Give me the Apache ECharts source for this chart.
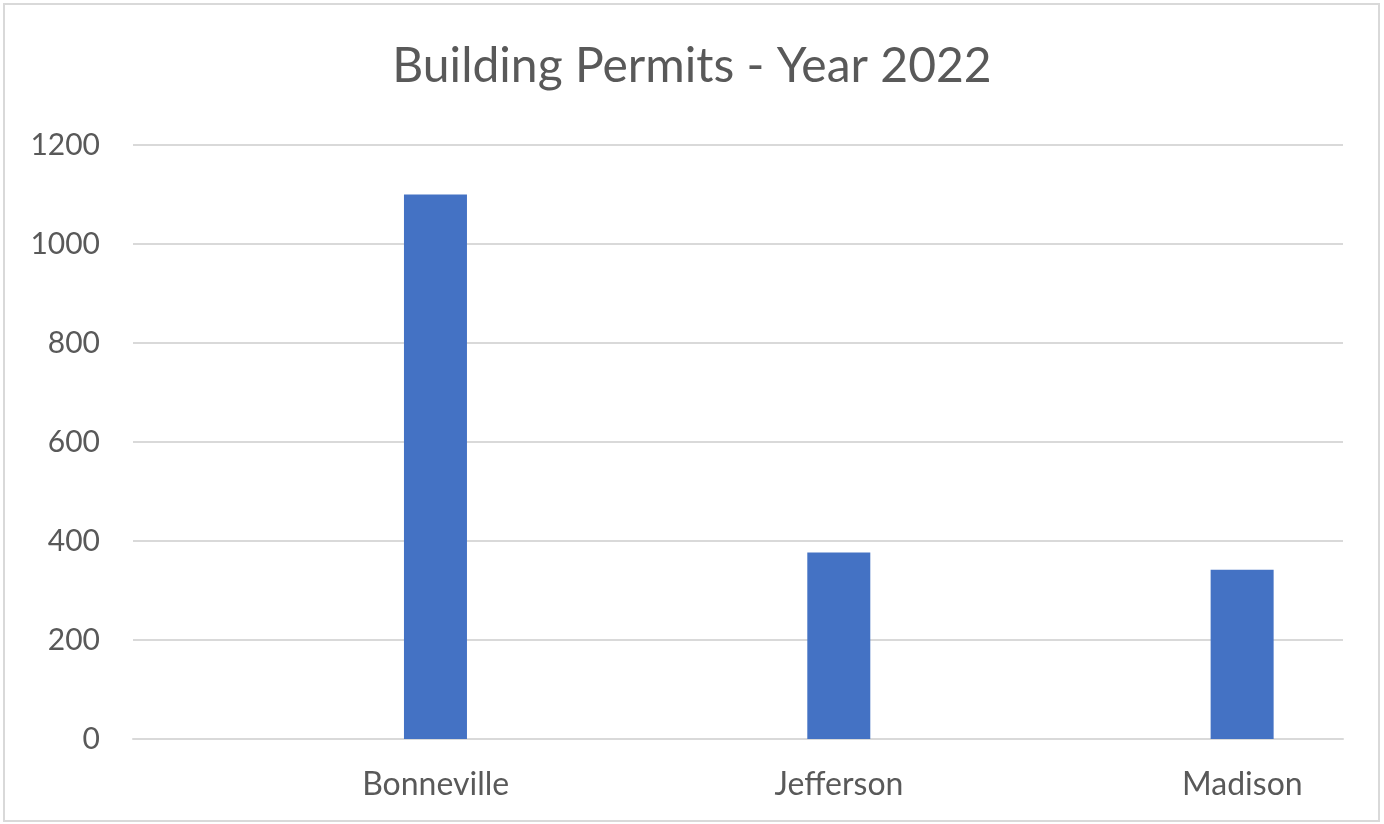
<!DOCTYPE html>
<html>
<head>
<meta charset="utf-8">
<script src="https://cdn.jsdelivr.net/npm/echarts@6/dist/echarts.min.js"></script>
<style>
  html, body { margin: 0; padding: 0; background: #fff; }
  #main { width: 1384px; height: 824px; }
</style>
</head>
<body>
<div id="main"></div>
<script>
// 数据
var counties = ['Bonneville', 'Jefferson', 'Madison'];
var permits = [1100, 377, 342];
var emptySlot = ['-', '-', '-'];   // 占位系列, 让柱子偏右

var txtColor = '#595959';
var lineColor = '#d9d9d9';
var fontName = 'Lato';

var chart = echarts.init(document.getElementById('main'));

var option = {
  backgroundColor: '#fff',
  animation: false,
  title: {
    text: 'Building Permits - Year 2022',
    left: 'center',
    top: 38,
    textStyle: { fontFamily: fontName, fontSize: 48, fontWeight: 'normal', color: txtColor }
  },
  grid: { left: 133, right: 41, top: 145, bottom: 85 },
  xAxis: {
    type: 'category',
    data: counties,
    axisLine: { show: true, lineStyle: { color: lineColor, width: 2 } },
    axisTick: { show: false },
    // 标签跟着柱子往右移
    axisLabel: { color: txtColor, fontFamily: fontName, fontSize: 32, margin: 30, padding: [0, 0, 0, 202] }
  },
  yAxis: {
    type: 'value', min: 0, max: 1200, interval: 200,
    axisLine: { show: false },
    axisTick: { show: false },
    axisLabel: {
      color: txtColor, fontFamily: fontName, fontSize: 30, margin: 33,
      formatter: function (v) { return String(v); }
    },
    splitLine: { lineStyle: { color: lineColor, width: 2 } }
  },
  series: [
    {
      type: 'bar',
      data: emptySlot,
      barWidth: 63,
      barGap: '220%',
      itemStyle: { color: 'rgba(0,0,0,0)' }
    },
    {
      type: 'bar',
      data: permits,
      barWidth: 63,
      barGap: '220%',
      itemStyle: { color: '#4472c4' }
    }
  ],
  graphic: [
    {
      type: 'rect',
      shape: { x: 4, y: 4, width: 1375, height: 817 },
      style: { fill: 'none', stroke: lineColor, lineWidth: 2 },
      z: -1
    }
  ]
};

chart.setOption(option);
</script>
</body>
</html>
